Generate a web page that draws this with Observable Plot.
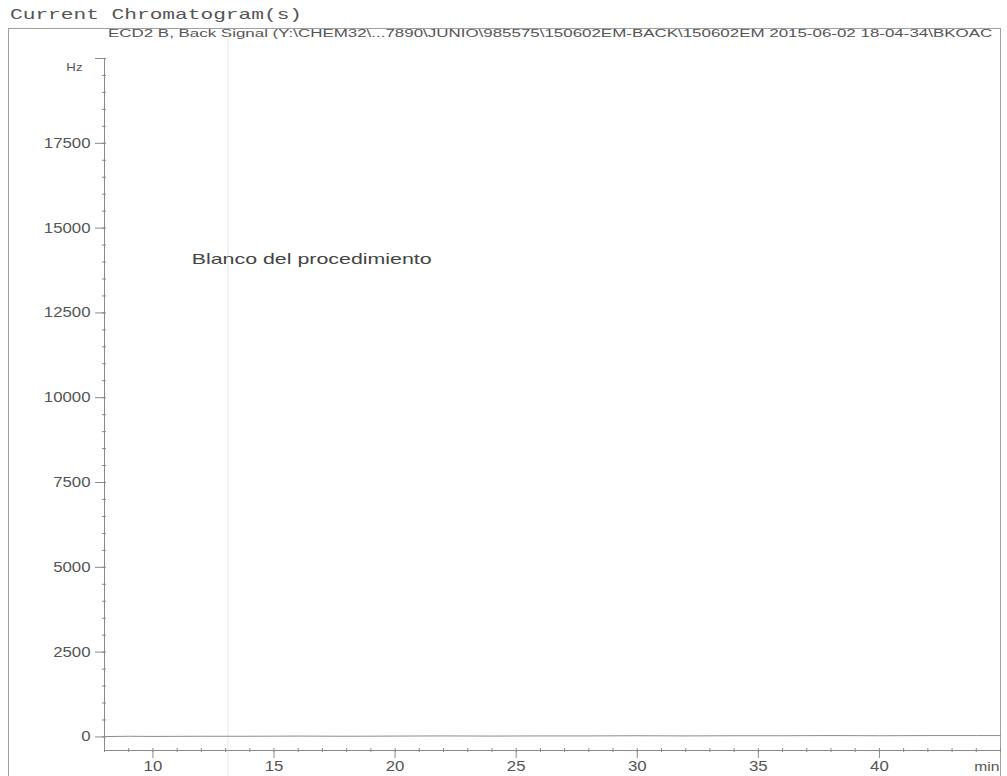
<!DOCTYPE html>
<html>
<head>
<meta charset="utf-8">
<script src="https://cdn.jsdelivr.net/npm/d3@7"></script>
<script src="https://cdn.jsdelivr.net/npm/@observablehq/plot@0.6"></script>
<style>
  body { margin: 0; background: #fff; width: 1007px; height: 776px; overflow: hidden; position: relative;
         font-family: "Liberation Sans", Arial, sans-serif; }
  #box { position: absolute; left: 8px; top: 28px; width: 993px; height: 800px; border: 1px solid #a0a0a0; box-sizing: border-box; }
  #title { position: absolute; left: 10px; top: 7px; font: 15px "Liberation Mono", "DejaVu Sans Mono", monospace;
           color: #555; transform-origin: 0 0; white-space: nowrap; }
  #signal { position: absolute; left: 108px; top: 28px; font-size: 10px; color: #555; transform-origin: 0 0; white-space: nowrap; }
  #chart { position: absolute; left: 0; top: 26px; }
</style>
</head>
<body>
<div id="box"></div>
<div id="title"></div>
<div id="signal"></div>
<div id="chart"></div>
<script>
// Header texts
const windowTitle = "Current Chromatogram(s)";
const signalName = "ECD2 B, Back Signal (Y:\\CHEM32\\...7890\\JUNIO\\985575\\150602EM-BACK\\150602EM 2015-06-02 18-04-34\\BKOAC";
const sampleNote = ["Blanco del procedimiento"];

// Detector trace: retention time (min) and signal (Hz), flat baseline of the blank
const times = [8, 9, 10, 12, 14, 16, 18, 20, 22, 24, 26, 28, 30, 32, 34, 36, 38, 40, 42, 44, 45];
const hz    = [10, 20, 15, 20, 20, 25, 20, 25, 30, 25, 30, 30, 35, 30, 35, 35, 40, 35, 40, 40, 40];

// Axis ticks
const yMajor = [0, 2500, 5000, 7500, 10000, 12500, 15000, 17500, 20000];
const yMinor = d3.range(0, 20001, 500);
const xMajor = [10, 15, 20, 25, 30, 35, 40];
const xMinor = d3.range(8, 46, 1);
const yUnit = ["Hz"];
const xUnit = ["min"];
const markerTime = [13.1];

// Stretch a block of text horizontally to a given width
function fitWidth(el, target) {
  const w = el.offsetWidth;
  el.style.transform = `scaleX(${target / w})`;
}

const titleEl = document.getElementById("title");
titleEl.textContent = windowTitle;
fitWidth(titleEl, 292);
const signalEl = document.getElementById("signal");
signalEl.textContent = signalName;
fitWidth(signalEl, 885);

const axisColor = "#8a8a8a";
const textColor = "#555";

const chart = Plot.plot({
  width: 1007,
  height: 750,
  marginLeft: 104,
  marginRight: 7,
  marginTop: 32,
  marginBottom: 26,
  style: { background: "transparent", fontFamily: "Liberation Sans, Arial, sans-serif", fontSize: "14px", color: textColor },
  x: { domain: [8, 45] },
  y: { domain: [-400, 20000] },
  marks: [
    Plot.ruleX(markerTime, { stroke: "#e8e8e8", y1: -1170, y2: 20800 }),
    // minor ticks, centred on the axis lines
    Plot.axisY(yMinor, { tickSize: 4, dx: 2, fill: "none", stroke: axisColor, label: null }),
    Plot.axisX(xMinor, { tickSize: 4, dy: -2, fill: "none", stroke: axisColor, label: null }),
    // major ticks with labels
    Plot.axisY(yMajor, { tickSize: 9, tickPadding: 5, stroke: axisColor, fill: textColor, label: null,
                         tickFormat: d => d === 20000 ? "" : String(d) }),
    Plot.axisX(xMajor, { tickSize: 8, tickPadding: 3, stroke: axisColor, fill: textColor, label: null,
                         tickFormat: d => String(d) }),
    // axis lines
    Plot.ruleX([8], { stroke: axisColor }),
    Plot.ruleY([-400], { stroke: axisColor }),
    // units
    Plot.text(yUnit, { x: 8, y: 20000, text: d => d, textAnchor: "end", dx: -22, dy: 9, fill: textColor, fontSize: 11 }),
    Plot.text(xUnit, { x: 45, y: -400, text: d => d, textAnchor: "end", dx: -1, dy: 16, fill: textColor, fontSize: 13 }),
    // detector signal
    Plot.line(times.map((t, i) => ({ t, v: hz[i] })), { x: "t", y: "v", stroke: "#8c8c8c", strokeWidth: 1 }),
    // sample annotation
    Plot.text(sampleNote, { x: 11.6, y: 14070, text: d => d, textAnchor: "start", fill: "#444", fontSize: 15 })
  ]
});

document.getElementById("chart").appendChild(chart);

// Widen glyphs slightly, like the printed report
const svg = d3.select(chart);
svg.selectAll("g[aria-label='y-axis tick label'] text, g[aria-label='x-axis tick label'] text, g[aria-label='text'] text")
  .each(function() {
    const len = this.getComputedTextLength();
    if (!len) return;
    const factor = this.textContent === sampleNote[0] ? 240 / len : 1.2;
    this.setAttribute("textLength", len * factor);
    this.setAttribute("lengthAdjust", "spacingAndGlyphs");
  });
</script>
</body>
</html>
